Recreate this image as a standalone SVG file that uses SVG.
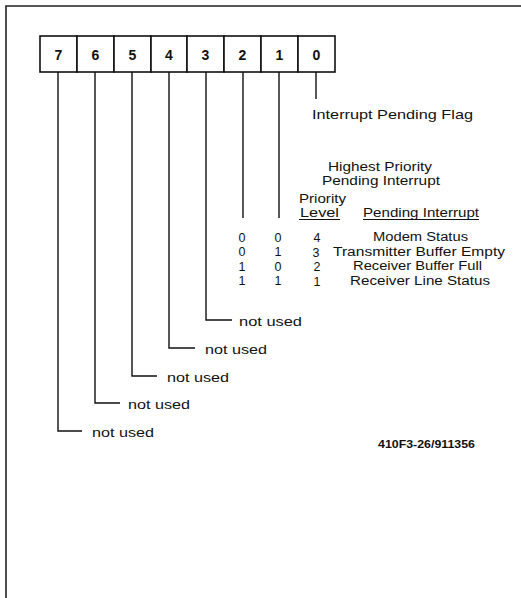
<svg xmlns="http://www.w3.org/2000/svg" width="521" height="598" viewBox="0 0 521 598">
<style>
  .t { font-family: "Liberation Sans", Arial, sans-serif; font-size: 13.5px; fill: #111; }
  .s { font-size: 12.5px; }
  .c { text-anchor: middle; }
  .b { font-weight: bold; font-size: 14px; }
  .cell { fill: #fff; stroke: #111; stroke-width: 1.6; }
  .ln { fill: none; stroke: #111; stroke-width: 1.4; }
  .ul { fill: none; stroke: #111; stroke-width: 1.1; }
  .frame { fill: none; stroke: #222; stroke-width: 1.6; }
</style>
<rect width="521" height="598" fill="#fff"/>
<path class="frame" d="M6 598 V6 H521"/>

<g id="register">
  <g id="bit7"><rect class="cell" x="40" y="36" width="37" height="36"/><text class="t b c" x="58.5" y="60">7</text></g>
  <g id="bit6"><rect class="cell" x="77" y="36" width="37" height="36"/><text class="t b c" x="95.5" y="60">6</text></g>
  <g id="bit5"><rect class="cell" x="114" y="36" width="37" height="36"/><text class="t b c" x="132.5" y="60">5</text></g>
  <g id="bit4"><rect class="cell" x="151" y="36" width="36" height="36"/><text class="t b c" x="169" y="60">4</text></g>
  <g id="bit3"><rect class="cell" x="187" y="36" width="37" height="36"/><text class="t b c" x="205.5" y="60">3</text></g>
  <g id="bit2"><rect class="cell" x="224" y="36" width="37" height="36"/><text class="t b c" x="242.5" y="60">2</text></g>
  <g id="bit1"><rect class="cell" x="261" y="36" width="37" height="36"/><text class="t b c" x="279.5" y="60">1</text></g>
  <g id="bit0"><rect class="cell" x="298" y="36" width="37" height="36"/><text class="t b c" x="316.5" y="60">0</text></g>
</g>

<g id="connectors">
  <path class="ln" d="M316 72 V99"/>
  <path class="ln" d="M279 72 V218"/>
  <path class="ln" d="M243 72 V218"/>
  <path class="ln" d="M206 72 V320 H232"/>
  <path class="ln" d="M169 72 V348 H195"/>
  <path class="ln" d="M132 72 V376 H157"/>
  <path class="ln" d="M95 72 V403 H120"/>
  <path class="ln" d="M58 72 V431 H82"/>
</g>

<g id="flag-label"><text class="t" x="312" y="119" textLength="161" lengthAdjust="spacingAndGlyphs">Interrupt Pending Flag</text></g>

<g id="priority-table">
  <text class="t" x="328" y="171" textLength="104" lengthAdjust="spacingAndGlyphs">Highest Priority</text>
  <text class="t" x="322" y="185" textLength="118" lengthAdjust="spacingAndGlyphs">Pending Interrupt</text>
  <text class="t s" x="299" y="203" textLength="47" lengthAdjust="spacingAndGlyphs">Priority</text>
  <text class="t s" x="300" y="217" textLength="39" lengthAdjust="spacingAndGlyphs">Level</text>
  <line class="ul" x1="299" y1="219.5" x2="340" y2="219.5"/>
  <text class="t s" x="363" y="217" textLength="116" lengthAdjust="spacingAndGlyphs">Pending Interrupt</text>
  <line class="ul" x1="363" y1="219.5" x2="479" y2="219.5"/>

  <text class="t s c" x="242" y="242">0</text><text class="t s c" x="278" y="242">0</text><text class="t s c" x="317" y="242">4</text>
  <text class="t s" x="373" y="241" textLength="95" lengthAdjust="spacingAndGlyphs">Modem Status</text>
  <text class="t s c" x="242" y="256">0</text><text class="t s c" x="278" y="256">1</text><text class="t s c" x="316" y="257">3</text>
  <text class="t s" x="333" y="255.5" textLength="172" lengthAdjust="spacingAndGlyphs">Transmitter Buffer Empty</text>
  <text class="t s c" x="242" y="270.5">1</text><text class="t s c" x="278" y="270.5">0</text><text class="t s c" x="317" y="271">2</text>
  <text class="t s" x="353" y="270" textLength="129" lengthAdjust="spacingAndGlyphs">Receiver Buffer Full</text>
  <text class="t s c" x="242" y="285">1</text><text class="t s c" x="278" y="285">1</text><text class="t s c" x="317" y="285.5">1</text>
  <text class="t s" x="350" y="284.5" textLength="140" lengthAdjust="spacingAndGlyphs">Receiver Line Status</text>
</g>

<g id="not-used-3"><text class="t" x="239" y="326" textLength="63" lengthAdjust="spacingAndGlyphs">not used</text></g>
<g id="not-used-4"><text class="t" x="205" y="354" textLength="62" lengthAdjust="spacingAndGlyphs">not used</text></g>
<g id="not-used-5"><text class="t" x="167" y="382" textLength="62" lengthAdjust="spacingAndGlyphs">not used</text></g>
<g id="not-used-6"><text class="t" x="128" y="409" textLength="62" lengthAdjust="spacingAndGlyphs">not used</text></g>
<g id="not-used-7"><text class="t" x="92" y="437" textLength="62" lengthAdjust="spacingAndGlyphs">not used</text></g>

<g id="figure-id"><text class="t" x="378" y="448" style="font-weight:bold;font-size:10.5px" textLength="97" lengthAdjust="spacingAndGlyphs">410F3-26/911356</text></g>
</svg>
